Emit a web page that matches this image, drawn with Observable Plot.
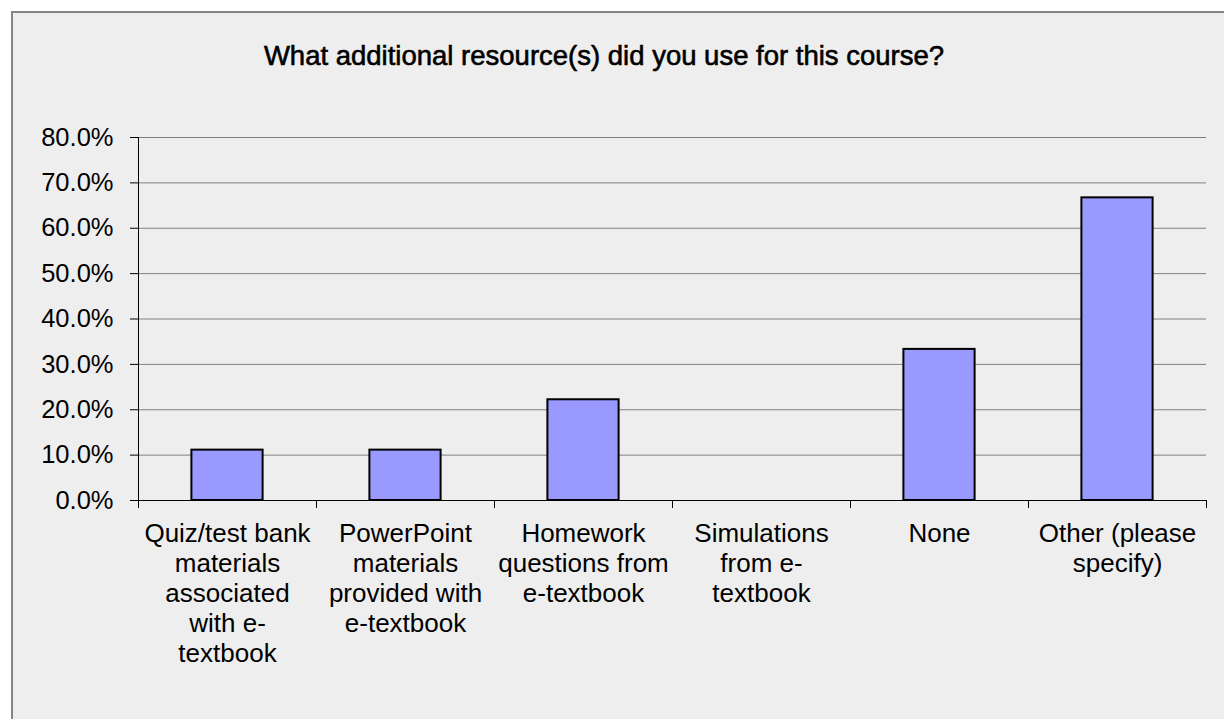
<!DOCTYPE html>
<html>
<head>
<meta charset="utf-8">
<script src="https://cdn.jsdelivr.net/npm/d3@7"></script>
<script src="https://cdn.jsdelivr.net/npm/@observablehq/plot@0.6"></script>
<style>
  html, body { margin: 0; padding: 0; background: #ffffff; overflow: hidden; width: 1224px; height: 719px; }
  #frame { position: absolute; left: 11px; top: 11px; width: 1300px; height: 800px; background: #eeeeee; border: 2px solid #858585; box-sizing: border-box; }
  #title { position: absolute; left: 0; top: 42px; width: 1208px; text-align: center; font-family: "Liberation Sans", Arial, sans-serif; font-size: 27.5px; line-height: 27.5px; font-weight: normal; -webkit-text-stroke: 0.6px #000; color: #000; white-space: nowrap; }
  #chart { position: absolute; left: 0; top: 0; }
</style>
</head>
<body>
<div id="frame"></div>
<div id="title">What additional resource(s) did you use for this course?</div>
<div id="chart"></div>
<script>
const categories = [
  "Quiz/test bank materials associated with e-textbook",
  "PowerPoint materials provided with e-textbook",
  "Homework questions from e-textbook",
  "Simulations from e-textbook",
  "None",
  "Other (please specify)"
];
const tickLabels = [
  "Quiz/test bank\nmaterials\nassociated\nwith e-\ntextbook",
  "PowerPoint\nmaterials\nprovided with\ne-textbook",
  "Homework\nquestions from\ne-textbook",
  "Simulations\nfrom e-\ntextbook",
  "None",
  "Other (please\nspecify)"
];
const values = [11.1, 11.1, 22.2, 0, 33.3, 66.7];
const yTicks = [0, 10, 20, 30, 40, 50, 60, 70, 80];

const data = categories.map((c, i) => ({category: c, value: values[i]}));
const labelOf = new Map(categories.map((c, i) => [c, tickLabels[i]]));

const W = 1224, H = 719;
const mL = 138, mR = 18, mT = 137, mB = 219;
const band = (W - mL - mR) / categories.length;

const chart = Plot.plot({
  width: W,
  height: H,
  marginLeft: mL,
  marginRight: mR,
  marginTop: mT,
  marginBottom: mB,
  style: {background: "transparent", fontFamily: "'Liberation Sans', Arial, sans-serif", fontSize: "25px", color: "#000"},
  x: {type: "band", domain: categories, padding: 0},
  y: {domain: [0, 80]},
  marks: [
    Plot.gridY(yTicks, {stroke: "#808080", strokeOpacity: 1, strokeWidth: 1}),
    Plot.barY(data.filter(d => d.value > 0), {
      x: "category", y: "value", fill: "#9999ff", stroke: "#000", strokeWidth: 2,
      insetLeft: band * 0.3, insetRight: band * 0.3
    }),
    Plot.ruleY([0], {stroke: "#000", strokeWidth: 1}),
    Plot.frame({anchor: "left", stroke: "#000", strokeWidth: 1}),
    Plot.ruleX(categories, {x: d => d, dx: -band / 2, y1: 0, y2: 0, insetBottom: -8, stroke: "#000"}),
    Plot.ruleX(categories.slice(-1), {x: d => d, dx: band / 2, y1: 0, y2: 0, insetBottom: -8, stroke: "#000"}),
    Plot.axisY(yTicks, {
      tickSize: 8, tickPadding: 17, tickFormat: d => d.toFixed(1) + "%",
      fontSize: 25.5, stroke: "#000", label: null
    }),
    Plot.axisX({
      tickSize: 0, tickPadding: 20, tickFormat: d => labelOf.get(d),
      fontSize: 26, lineHeight: 30 / 26, label: null
    })
  ]
});
document.getElementById("chart").appendChild(chart);
</script>
</body>
</html>
